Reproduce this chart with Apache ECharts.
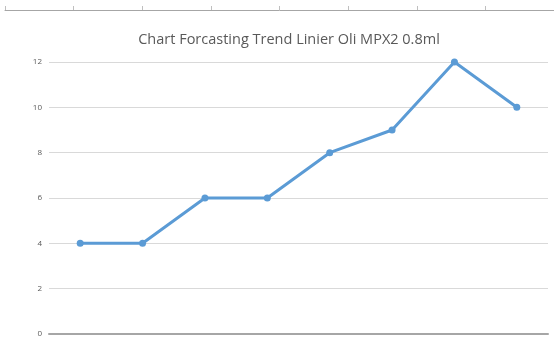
<!DOCTYPE html>
<html>
<head>
<meta charset="utf-8">
<script src="https://cdn.jsdelivr.net/npm/echarts@6/dist/echarts.min.js"></script>
<style>
  html, body { margin: 0; padding: 0; background: #fff; }
  #chart { width: 554px; height: 349px; }
</style>
</head>
<body>
<div id="chart"></div>
<script>
// Forecast trend series for MPX2 0.8ml oil
const categories = ['1', '2', '3', '4', '5', '6', '7', '8'];
const values = [4, 4, 6, 6, 8, 9, 12, 10];
const yTicks = [0, 2, 4, 6, 8, 10, 12];
// Upper strip axis (the edge of the chart above), tick slots only
const stripCategories = ['', '', '', '', '', '', '', ''];

const chart = echarts.init(document.getElementById('chart'), null, { renderer: 'canvas' });

chart.setOption({
  animation: false,
  backgroundColor: '#ffffff',
  title: {
    text: 'Chart Forcasting Trend Linier Oli MPX2 0.8ml',
    left: 284,
    top: 27,
    textAlign: 'center',
    textStyle: {
      fontFamily: 'Open Sans',
      fontSize: 14.5,
      fontWeight: 'normal',
      color: '#595959'
    }
  },
  grid: [
    { left: 49, top: 62, width: 499, height: 272 },
    { left: 5, top: 0, width: 560, height: 10 }
  ],
  xAxis: [
    {
      type: 'category',
      gridIndex: 0,
      data: categories,
      boundaryGap: true,
      axisLine: { lineStyle: { color: '#a6a6a6', width: 2 } },
      axisTick: { show: false },
      axisLabel: { show: false }
    },
    {
      type: 'category',
      gridIndex: 1,
      data: stripCategories,
      boundaryGap: true,
      axisLine: { lineStyle: { color: '#a6a6a6', width: 1 } },
      axisTick: { show: true, inside: true, length: 4, lineStyle: { color: '#bfbfbf' } },
      axisLabel: { show: false }
    }
  ],
  yAxis: [
    {
      type: 'value',
      gridIndex: 0,
      min: yTicks[0],
      max: yTicks[yTicks.length - 1],
      interval: 2,
      axisLine: { show: false },
      axisTick: { show: false },
      axisLabel: {
        color: '#595959',
        fontFamily: 'Open Sans',
        fontSize: 8,
        margin: 7
      },
      splitLine: { lineStyle: { color: '#d9d9d9', width: 1 } }
    },
    {
      type: 'value',
      gridIndex: 1,
      show: false
    }
  ],
  series: [
    {
      type: 'line',
      xAxisIndex: 0,
      yAxisIndex: 0,
      data: values,
      symbol: 'circle',
      symbolSize: 7,
      lineStyle: { color: '#5b9bd5', width: 3 },
      itemStyle: { color: '#5b9bd5' }
    }
  ]
});
</script>
</body>
</html>
